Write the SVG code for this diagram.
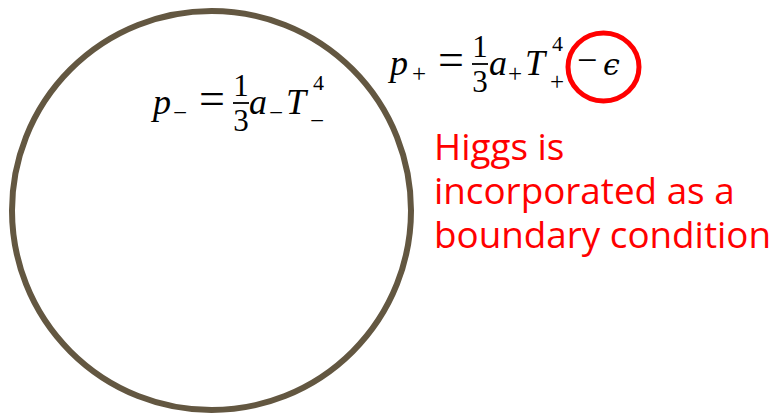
<svg xmlns="http://www.w3.org/2000/svg" width="776" height="414" viewBox="0 0 776 414">
<style>
.m{font-family:"Liberation Serif","Times New Roman",serif;fill:#000}
.i{font-style:italic}
.b{font-size:36px}
.s{font-size:25px}
.d{font-size:31px}
.eq{font-size:46px}
.bar{stroke:#000;stroke-width:1.8}
.note{font-family:"Open Sans","Noto Sans",sans-serif;font-size:36.8px;fill:#ff0000}
</style>
<rect width="776" height="414" fill="#ffffff"/>
<g id="bubble">
<circle cx="211.5" cy="210.5" r="199.5" fill="none" stroke="#635741" stroke-width="6"/>
</g>
<g id="eq-minus">
<text class="m i b" x="153" y="114">p</text>
<text class="m s" x="173" y="121">−</text>
<text class="m eq" x="199" y="114">=</text>
<text class="m d" x="241" y="96" text-anchor="middle">1</text>
<line class="bar" x1="233" y1="103" x2="249" y2="103"/>
<text class="m d" x="241" y="131" text-anchor="middle">3</text>
<text class="m i b" x="249" y="114">a</text>
<text class="m s" x="269" y="121">−</text>
<text class="m i b" x="286" y="114">T</text>
<text class="m" x="313" y="90" style="font-size:22px">4</text>
<text class="m s" x="310" y="129">−</text>
</g>
<g id="eq-plus">
<text class="m i b" x="390" y="75">p</text>
<text class="m s" x="412" y="82">+</text>
<text class="m eq" x="438" y="75">=</text>
<text class="m d" x="480" y="57" text-anchor="middle">1</text>
<line class="bar" x1="472" y1="64" x2="488" y2="64"/>
<text class="m d" x="480" y="92" text-anchor="middle">3</text>
<text class="m i b" x="489" y="75">a</text>
<text class="m s" x="508" y="82">+</text>
<text class="m i b" x="525" y="75">T</text>
<text class="m" x="552" y="51" style="font-size:22px">4</text>
<text class="m s" x="550" y="90">+</text>
<text class="m b" x="577" y="72">−</text>
<text class="m" x="603" y="75" style="font-family:'DejaVu Serif','Liberation Serif',serif;font-size:30px;font-style:italic">ϵ</text>
</g>
<g id="highlight">
<ellipse cx="603.5" cy="67" rx="35.5" ry="34" fill="none" stroke="#ff0000" stroke-width="5"/>
</g>
<g id="note">
<text class="note"><tspan x="434" y="160">Higgs is</tspan><tspan x="434" y="204">incorporated as a</tspan><tspan x="434" y="248">boundary condition</tspan></text>
</g>
</svg>
